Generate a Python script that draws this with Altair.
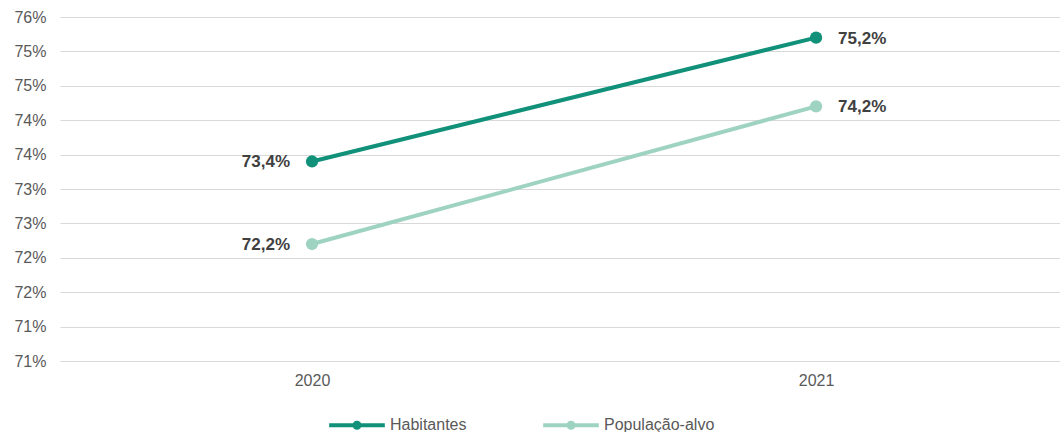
import altair as alt
import pandas as pd

# Share of population (%) by year
years = [2020, 2021]
habitantes = [73.4, 75.2]
populacao_alvo = [72.2, 74.2]
series_names = ["Habitantes", "População-alvo"]
series_colors = ["#11917a", "#9fd3c1"]
y_ticks = [70.5, 71.0, 71.5, 72.0, 72.5, 73.0, 73.5, 74.0, 74.5, 75.0, 75.5]

rows = []
for name, vals in zip(series_names, [habitantes, populacao_alvo]):
    for i, (yr, v) in enumerate(zip(years, vals)):
        rows.append({"ano": yr, "valor": v, "serie": name, "pos": "left" if i == 0 else "right"})
df = pd.DataFrame(rows)

FONT = "Liberation Sans"

color = alt.Color(
    "serie:N",
    scale=alt.Scale(domain=series_names, range=series_colors),
    legend=alt.Legend(
        title=None,
        orient="none",
        legendX=267,
        legendY=378,
        direction="horizontal",
        symbolType="M-1,0L1,0M0,-0.09A0.09,0.09 0 1 1 0,0.09A0.09,0.09 0 1 1 0,-0.09Z",
        symbolSize=3100,
        symbolStrokeWidth=4,
        labelFont=FONT,
        labelFontSize=16,
        labelColor="#595959",
        labelOffset=3,
        columnPadding=68,
    ),
)

x = alt.X(
    "ano:Q",
    scale=alt.Scale(domain=[2019.5, 2021.484], nice=False, zero=False),
    axis=alt.Axis(
        title=None, values=years, format="d", grid=False, domain=False, ticks=False,
        labelFont=FONT, labelFontSize=16, labelColor="#595959", labelPadding=11,
    ),
)
y = alt.Y(
    "valor:Q",
    scale=alt.Scale(domain=[70.5, 75.5], nice=False, zero=False),
    axis=alt.Axis(
        title=None, values=y_ticks, labelExpr="round(datum.value) + '%'",
        domain=False, ticks=False, gridColor="#d9d9d9", gridWidth=1.2,
        labelFont=FONT, labelFontSize=16, labelColor="#595959", labelPadding=14,
    ),
)

base = alt.Chart(df)

lines = base.mark_line(strokeWidth=4).encode(x=x, y=y, color=color)
points = base.mark_circle(size=150, opacity=1).encode(x=x, y=y, color=alt.Color("serie:N", scale=alt.Scale(domain=series_names, range=series_colors), legend=None))

label_expr = "replace(format(datum.valor, '.1f'), '.', ',') + '%'"
labels_left = base.transform_filter("datum.pos == 'left'").transform_calculate(txt=label_expr).mark_text(
    align="right", baseline="middle", dx=-22, dy=1, font=FONT, fontSize=17, fontWeight="bold", color="#404040"
).encode(x=x, y=y, text="txt:N")
labels_right = base.transform_filter("datum.pos == 'right'").transform_calculate(txt=label_expr).mark_text(
    align="left", baseline="middle", dx=22, dy=1, font=FONT, fontSize=17, fontWeight="bold", color="#404040"
).encode(x=x, y=y, text="txt:N")

chart = (
    alt.layer(lines, points, labels_left, labels_right)
    .properties(
        width=1000,
        height=344,
        padding={"left": 60, "top": 17, "right": 0, "bottom": 71},
        autosize="none",
        background="white",
    )
    .configure_view(stroke=None)
)

chart.save("out.html", embed_options={"renderer": "svg", "actions": False})
